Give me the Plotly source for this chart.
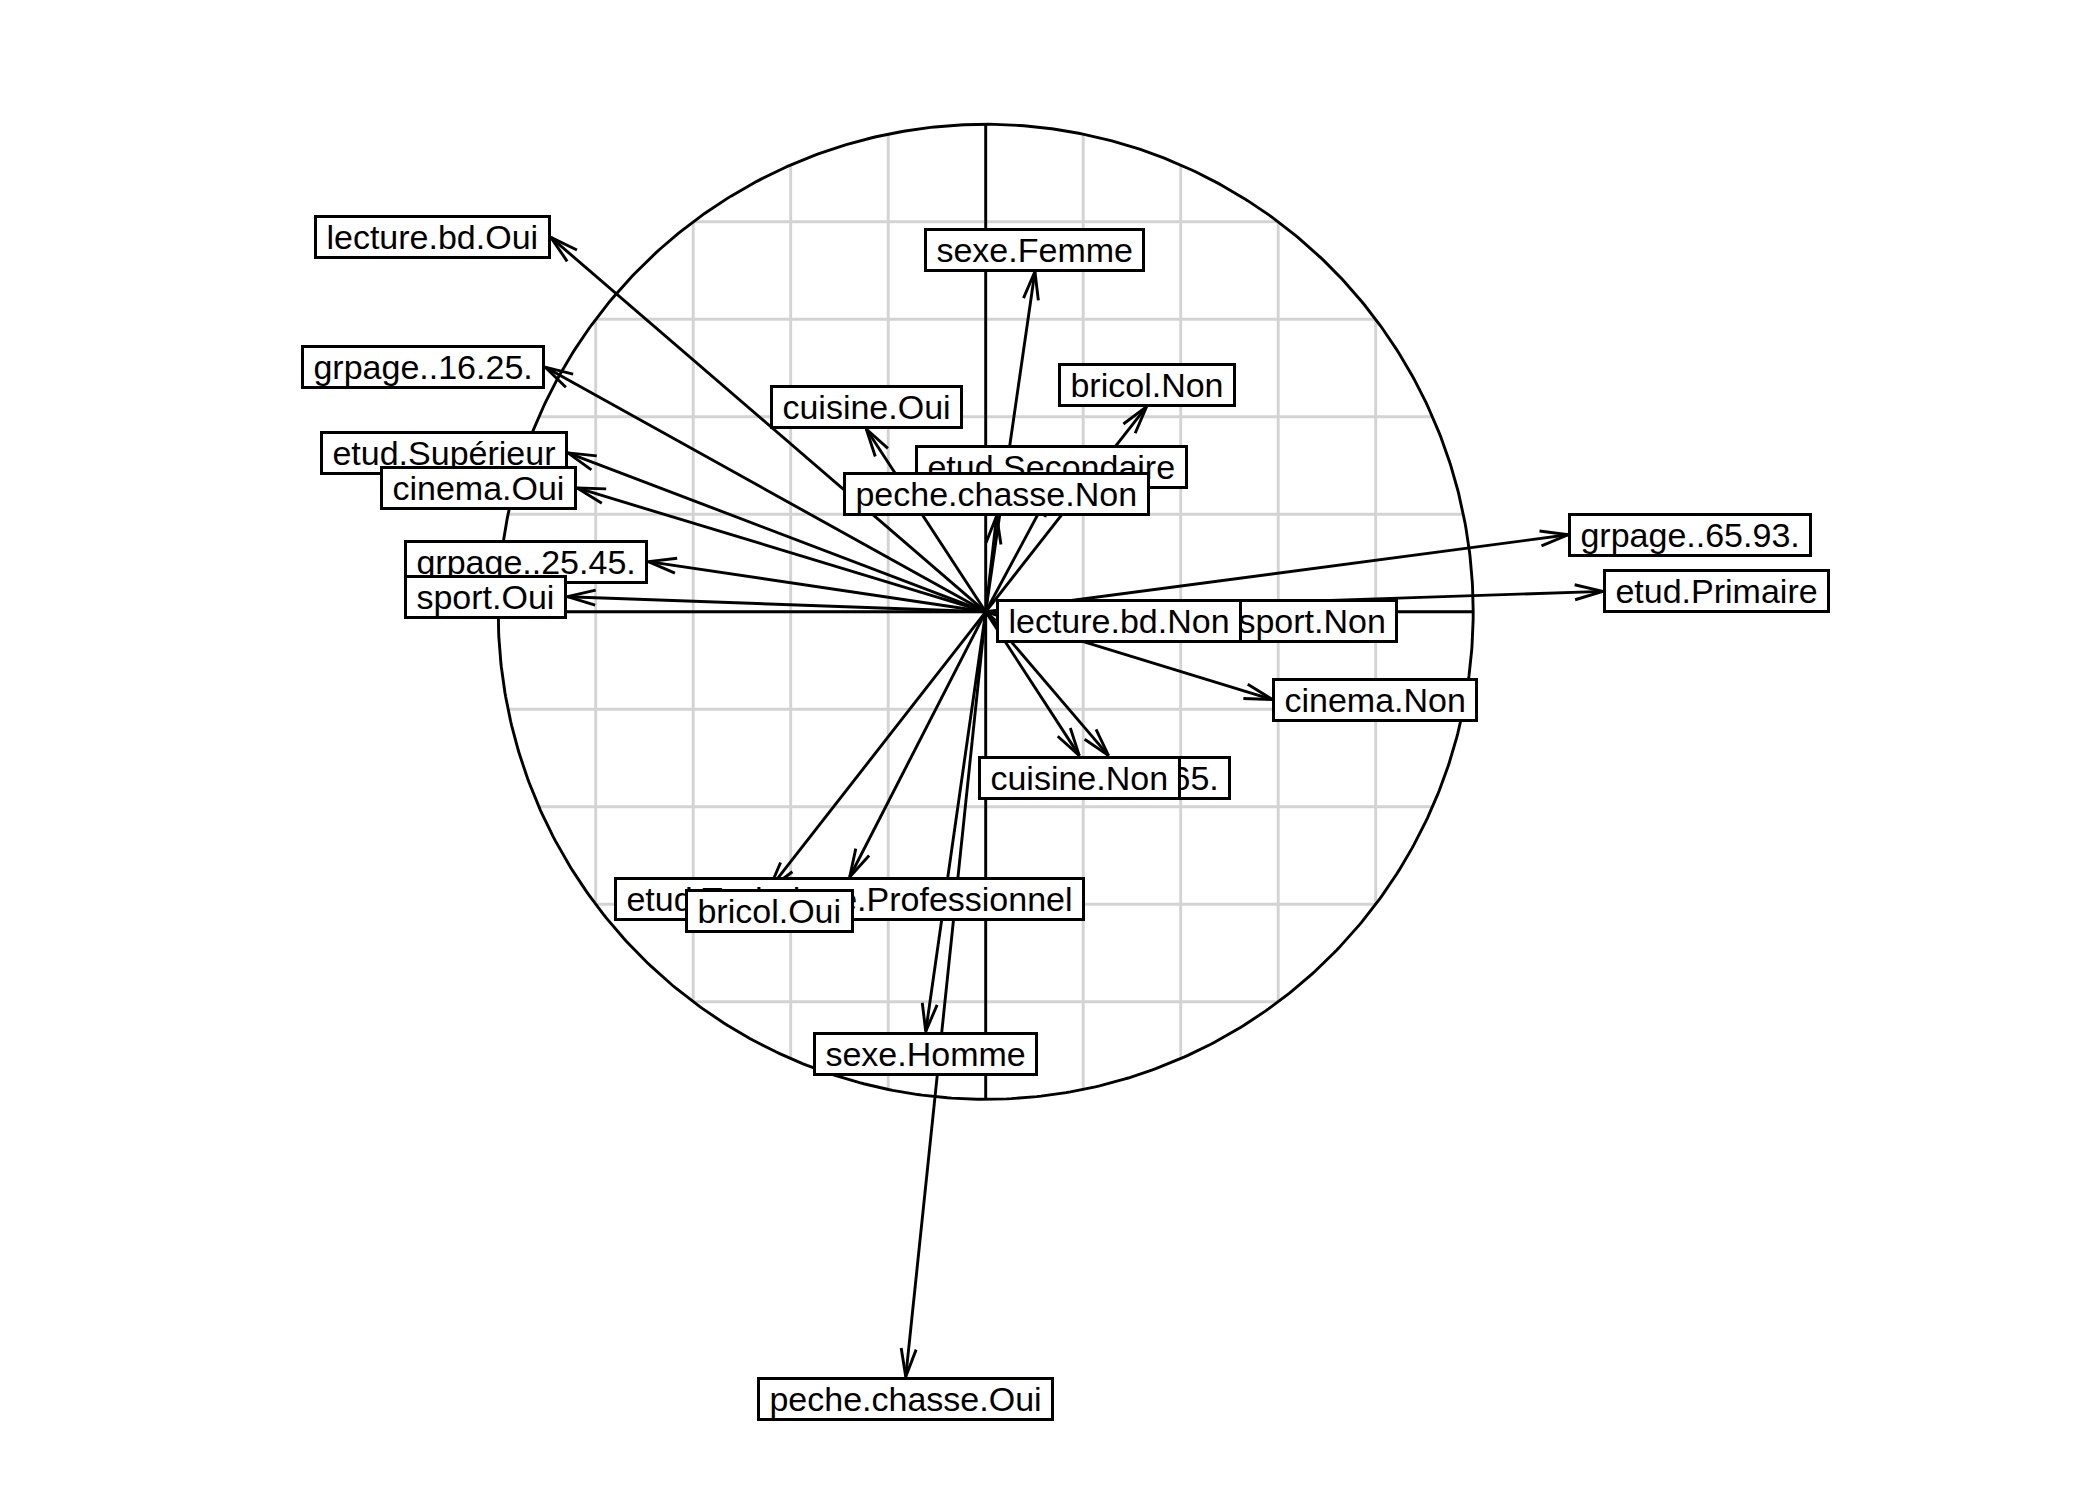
import numpy as np
import plotly.graph_objects as go

# ---- data: coordinates of the categories on the two factorial axes ----
labels = ["sexe.Femme", "sexe.Homme",
          "grpage..16.25.", "grpage..25.45.", "grpage..45.65.", "grpage..65.93.",
          "etud.Primaire", "etud.Secondaire", "etud.Supérieur", "etud.Technique.Professionnel",
          "sport.Non", "sport.Oui", "lecture.bd.Non", "lecture.bd.Oui",
          "peche.chasse.Non", "peche.chasse.Oui", "cinema.Non", "cinema.Oui",
          "cuisine.Non", "cuisine.Oui", "bricol.Non", "bricol.Oui"]
axis1 = [0.101, -0.123,
         -0.904, -0.692, 0.252, 1.195,
         1.266, 0.135, -0.857, -0.279,
         0.492, -0.858, 0.0205, -0.892,
         0.0225, -0.164, 0.588, -0.838,
         0.192, -0.245, 0.330, -0.444]
axis2 = [0.698, -0.861,
         0.502, 0.103, -0.295, 0.158,
         0.042, 0.252, 0.326, -0.544,
         -0.018, 0.031, -0.018, 0.768,
         0.197, -1.569, -0.180, 0.254,
         -0.295, 0.375, 0.421, -0.569]
grid_step = 0.2

# ---- layout constants ----
W, H = 2100, 1500
UNIT = 487.5                     # pixels per data unit
ORIGIN_PX = (985.7, 611.8)       # pixel position of (0, 0)
xr = [-ORIGIN_PX[0] / UNIT, (W - ORIGIN_PX[0]) / UNIT]
yr = [-(H - ORIGIN_PX[1]) / UNIT, ORIGIN_PX[1] / UNIT]
LW = 2.9
HEAD_LEN = 29 / UNIT
HEAD_ANG = np.deg2rad(15)
MIN_HEAD = 0.09

fig = go.Figure()

# grid clipped to the unit circle
gx, gy = [], []
for g in np.arange(-1 + grid_step, 1 - grid_step / 2, grid_step):
    g = round(float(g), 10)
    h = float(np.sqrt(max(0.0, 1 - g * g)))
    gx += [g, g, None, -h, h, None]
    gy += [-h, h, None, g, g, None]
fig.add_trace(go.Scatter(x=gx, y=gy, mode="lines",
                         line=dict(color="#D3D3D3", width=LW), hoverinfo="skip"))

# circle
t = np.linspace(0, 2 * np.pi, 721)
fig.add_trace(go.Scatter(x=np.cos(t), y=np.sin(t), mode="lines",
                         line=dict(color="black", width=LW), hoverinfo="skip"))

# axes cross
fig.add_trace(go.Scatter(x=[-1, 1, None, 0, 0], y=[0, 0, None, -1, 1], mode="lines",
                         line=dict(color="black", width=LW), hoverinfo="skip"))

# arrows
sx, sy, hx, hy = [], [], [], []
for x, y in zip(axis1, axis2):
    sx += [0, x, None]
    sy += [0, y, None]
    d = float(np.hypot(x, y))
    if d > MIN_HEAD:
        ux, uy = -x / d, -y / d
        pts = []
        for s in (1, -1):
            c, sn = np.cos(s * HEAD_ANG), np.sin(s * HEAD_ANG)
            bx, by = ux * c - uy * sn, ux * sn + uy * c
            pts.append((x + HEAD_LEN * bx, y + HEAD_LEN * by))
        hx += [pts[0][0], x, pts[1][0], None]
        hy += [pts[0][1], y, pts[1][1], None]
fig.add_trace(go.Scatter(x=sx, y=sy, mode="lines",
                         line=dict(color="black", width=LW), hoverinfo="skip"))
fig.add_trace(go.Scatter(x=hx, y=hy, mode="lines",
                         line=dict(color="black", width=LW), hoverinfo="skip"))

# boxed labels placed outside the arrow tips
annotations = []
nb = "\u00a0"
for lab, x, y in zip(labels, axis1, axis2):
    if x > y and x > -y:
        xa, ya = "left", "middle"
    elif x > y and x <= -y:
        xa, ya = "center", "top"
    elif x <= y and x <= -y:
        xa, ya = "right", "middle"
    else:
        xa, ya = "center", "bottom"
    annotations.append(dict(
        x=x, y=y, xref="x", yref="y", text=nb + lab + nb, showarrow=False,
        xanchor=xa, yanchor=ya,
        font=dict(family="Liberation Sans, Arial, sans-serif", size=34, color="black"),
        bgcolor="white", bordercolor="black", borderwidth=3, borderpad=0,
        height=38,
    ))

fig.update_layout(
    width=W, height=H,
    margin=dict(l=0, r=0, t=0, b=0),
    paper_bgcolor="white", plot_bgcolor="white",
    showlegend=False,
    xaxis=dict(range=xr, visible=False, fixedrange=True),
    yaxis=dict(range=yr, visible=False, fixedrange=True),
    annotations=annotations,
)

fig.write_html("out.html",
               config={"displayModeBar": False, "staticPlot": True},
               post_script="document.body.style.margin='0';document.body.style.overflow='hidden';")
